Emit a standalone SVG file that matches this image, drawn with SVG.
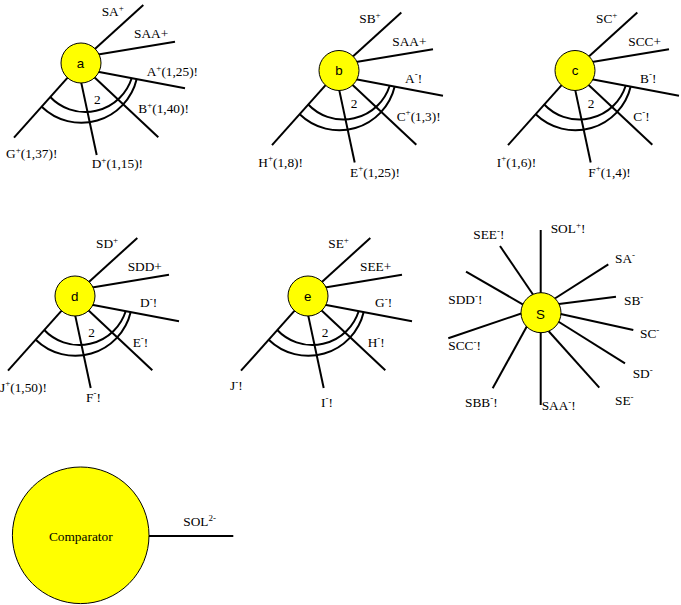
<svg xmlns="http://www.w3.org/2000/svg" xmlns:xlink="http://www.w3.org/1999/xlink" width="681" height="605" viewBox="0 0 681 605">
<style>
  .bg { fill: #ffffff; }
  .ln { stroke: #000; stroke-width: 2; fill: none; stroke-linecap: butt; }
  .arc { stroke: #000; stroke-width: 2; fill: none; }
  .nd { fill: #ffff00; stroke: #000; stroke-width: 1; }
  .lb { font-family: "Liberation Serif", "Times New Roman", serif; font-size: 13.33px; fill: #000; }
  .nl { font-family: "Liberation Sans", Arial, sans-serif; font-size: 13.33px; fill: #000; text-anchor: middle; }
  .cl { font-family: "Liberation Serif", "Times New Roman", serif; font-size: 13.33px; fill: #000; text-anchor: middle; }
  .sup { font-size: 9px; }
</style>
<rect class="bg" x="0" y="0" width="681" height="605"/>

<g id="connectors">
  <g id="stubs-a">
    <line class="ln" x1="93.5" y1="50.2" x2="143.3" y2="5"/>
    <line class="ln" x1="96.6" y1="54.7" x2="175" y2="41.7"/>
    <line class="ln" x1="96.6" y1="71.6" x2="185" y2="88.3"/>
    <line class="ln" x1="94.1" y1="77" x2="158.3" y2="137.3"/>
    <line class="ln" x1="80.5" y1="79.1" x2="96.7" y2="155"/>
    <line class="ln" x1="69.4" y1="75.7" x2="14" y2="137.7"/>
  </g>
  <g id="stubs-b" transform="translate(258,7.5)">
    <line class="ln" x1="93.5" y1="50.2" x2="143.3" y2="5"/>
    <line class="ln" x1="96.6" y1="54.7" x2="175" y2="41.7"/>
    <line class="ln" x1="96.6" y1="71.6" x2="185" y2="88.3"/>
    <line class="ln" x1="94.1" y1="77" x2="158.3" y2="137.3"/>
    <line class="ln" x1="80.5" y1="79.1" x2="96.7" y2="155"/>
    <line class="ln" x1="69.4" y1="75.7" x2="14" y2="137.7"/>
  </g>
  <g id="stubs-c" transform="translate(494,7.5)">
    <line class="ln" x1="93.5" y1="50.2" x2="143.3" y2="5"/>
    <line class="ln" x1="96.6" y1="54.7" x2="175" y2="41.7"/>
    <line class="ln" x1="96.6" y1="71.6" x2="185" y2="88.3"/>
    <line class="ln" x1="94.1" y1="77" x2="158.3" y2="137.3"/>
    <line class="ln" x1="80.5" y1="79.1" x2="96.7" y2="155"/>
    <line class="ln" x1="69.4" y1="75.7" x2="14" y2="137.7"/>
  </g>
  <g id="stubs-d" transform="translate(-6,233)">
    <line class="ln" x1="93.5" y1="50.2" x2="143.3" y2="5"/>
    <line class="ln" x1="96.6" y1="54.7" x2="175" y2="41.7"/>
    <line class="ln" x1="96.6" y1="71.6" x2="185" y2="88.3"/>
    <line class="ln" x1="94.1" y1="77" x2="158.3" y2="137.3"/>
    <line class="ln" x1="80.5" y1="79.1" x2="96.7" y2="155"/>
    <line class="ln" x1="69.4" y1="75.7" x2="14" y2="137.7"/>
  </g>
  <g id="stubs-e" transform="translate(227,233)">
    <line class="ln" x1="93.5" y1="50.2" x2="143.3" y2="5"/>
    <line class="ln" x1="96.6" y1="54.7" x2="175" y2="41.7"/>
    <line class="ln" x1="96.6" y1="71.6" x2="185" y2="88.3"/>
    <line class="ln" x1="94.1" y1="77" x2="158.3" y2="137.3"/>
    <line class="ln" x1="80.5" y1="79.1" x2="96.7" y2="155"/>
    <line class="ln" x1="69.4" y1="75.7" x2="14" y2="137.7"/>
  </g>
  <g id="stubs-s">
    <line class="ln" x1="540.7" y1="295" x2="540.7" y2="230"/>
    <line class="ln" x1="552.5" y1="300" x2="608.3" y2="264.3"/>
    <line class="ln" x1="555" y1="304.6" x2="616" y2="296.7"/>
    <line class="ln" x1="556.1" y1="312.9" x2="633.3" y2="330"/>
    <line class="ln" x1="555.8" y1="320" x2="625" y2="363.3"/>
    <line class="ln" x1="546.7" y1="329" x2="599.3" y2="387.7"/>
    <line class="ln" x1="540.7" y1="330" x2="540.7" y2="405"/>
    <line class="ln" x1="529.1" y1="322.3" x2="492.7" y2="388.3"/>
    <line class="ln" x1="526.4" y1="311.7" x2="448.3" y2="338.3"/>
    <line class="ln" x1="527" y1="306.8" x2="466" y2="271.7"/>
    <line class="ln" x1="534.5" y1="296.8" x2="500" y2="246"/>
  </g>
  <g id="stub-comparator">
    <line class="ln" x1="145" y1="536" x2="233.3" y2="536"/>
  </g>
</g>

<g id="node-a">
  <path class="arc" d="M 50 96.7 A 48.6 48.6 0 0 0 131.7 78.3"/>
  <path class="arc" d="M 41.7 106.7 A 56.9 56.9 0 0 0 136.7 79"/>
  <circle class="nd" cx="81" cy="63" r="20"/>
  <text class="nl" x="80.5" y="68">a</text>
  <text class="lb" x="94" y="104.3">2</text>
  <text class="lb" x="101.7" y="16">SA<tspan class="sup" dy="-5.5">+</tspan></text>
  <text class="lb" x="134" y="38.3">SAA+</text>
  <text class="lb" x="146.7" y="76">A<tspan class="sup" dy="-5.5">+</tspan><tspan dy="5.5">(1,25)!</tspan></text>
  <text class="lb" x="138.3" y="113.3">B<tspan class="sup" dy="-5.5">+</tspan><tspan dy="5.5">(1,40)!</tspan></text>
  <text class="lb" x="6" y="158.3">G<tspan class="sup" dy="-5.5">+</tspan><tspan dy="5.5">(1,37)!</tspan></text>
  <text class="lb" x="91.7" y="168.3">D<tspan class="sup" dy="-5.5">+</tspan><tspan dy="5.5">(1,15)!</tspan></text>
</g>

<g id="node-b">
  <g transform="translate(258,7.5)">
    <path class="arc" d="M 50 96.7 A 48.6 48.6 0 0 0 131.7 78.3"/>
    <path class="arc" d="M 41.7 106.7 A 56.9 56.9 0 0 0 136.7 79"/>
    <circle class="nd" cx="81" cy="63" r="20"/>
  </g>
  <text class="nl" x="339" y="75">b</text>
  <text class="lb" x="350.7" y="108.3">2</text>
  <text class="lb" x="359.3" y="23.3">SB<tspan class="sup" dy="-5.5">+</tspan></text>
  <text class="lb" x="392.3" y="46">SAA+</text>
  <text class="lb" x="405" y="82.7">A<tspan class="sup" dy="-5.5">-</tspan><tspan dy="5.5">!</tspan></text>
  <text class="lb" x="396.7" y="120.7">C<tspan class="sup" dy="-5.5">+</tspan><tspan dy="5.5">(1,3)!</tspan></text>
  <text class="lb" x="258.3" y="166.7">H<tspan class="sup" dy="-5.5">+</tspan><tspan dy="5.5">(1,8)!</tspan></text>
  <text class="lb" x="350" y="176.7">E<tspan class="sup" dy="-5.5">+</tspan><tspan dy="5.5">(1,25)!</tspan></text>
</g>

<g id="node-c">
  <g transform="translate(494,7.5)">
    <path class="arc" d="M 50 96.7 A 48.6 48.6 0 0 0 131.7 78.3"/>
    <path class="arc" d="M 41.7 106.7 A 56.9 56.9 0 0 0 136.7 79"/>
    <circle class="nd" cx="81" cy="63" r="20"/>
  </g>
  <text class="nl" x="575" y="75">c</text>
  <text class="lb" x="587.7" y="108.3">2</text>
  <text class="lb" x="596" y="23.3">SC<tspan class="sup" dy="-5.5">+</tspan></text>
  <text class="lb" x="628.3" y="46">SCC+</text>
  <text class="lb" x="640" y="82.7">B<tspan class="sup" dy="-5.5">-</tspan><tspan dy="5.5">!</tspan></text>
  <text class="lb" x="633.3" y="120.7">C<tspan class="sup" dy="-5.5">-</tspan><tspan dy="5.5">!</tspan></text>
  <text class="lb" x="496.7" y="166.7">I<tspan class="sup" dy="-5.5">+</tspan><tspan dy="5.5">(1,6)!</tspan></text>
  <text class="lb" x="588.3" y="176.7">F<tspan class="sup" dy="-5.5">+</tspan><tspan dy="5.5">(1,4)!</tspan></text>
</g>

<g id="node-d">
  <g transform="translate(-6,233)">
    <path class="arc" d="M 50 96.7 A 48.6 48.6 0 0 0 131.7 78.3"/>
    <path class="arc" d="M 41.7 106.7 A 56.9 56.9 0 0 0 136.7 79"/>
    <circle class="nd" cx="81" cy="63" r="20"/>
  </g>
  <text class="nl" x="74.7" y="300.7">d</text>
  <text class="lb" x="88.3" y="336.7">2</text>
  <text class="lb" x="96" y="248.3">SD<tspan class="sup" dy="-5.5">+</tspan></text>
  <text class="lb" x="127.7" y="270.7">SDD+</text>
  <text class="lb" x="140" y="307.3">D<tspan class="sup" dy="-5.5">-</tspan><tspan dy="5.5">!</tspan></text>
  <text class="lb" x="132.7" y="346.7">E<tspan class="sup" dy="-5.5">-</tspan><tspan dy="5.5">!</tspan></text>
  <text class="lb" x="0" y="391.7">J<tspan class="sup" dy="-5.5">+</tspan><tspan dy="5.5">(1,50)!</tspan></text>
  <text class="lb" x="86" y="401.7">F<tspan class="sup" dy="-5.5">-</tspan><tspan dy="5.5">!</tspan></text>
</g>

<g id="node-e">
  <g transform="translate(227,233)">
    <path class="arc" d="M 50 96.7 A 48.6 48.6 0 0 0 131.7 78.3"/>
    <path class="arc" d="M 41.7 106.7 A 56.9 56.9 0 0 0 136.7 79"/>
    <circle class="nd" cx="81" cy="63" r="20"/>
  </g>
  <text class="nl" x="307.7" y="300.7">e</text>
  <text class="lb" x="321.7" y="336.7">2</text>
  <text class="lb" x="328.3" y="248.3">SE<tspan class="sup" dy="-5.5">+</tspan></text>
  <text class="lb" x="360" y="270.7">SEE+</text>
  <text class="lb" x="375" y="307.3">G<tspan class="sup" dy="-5.5">-</tspan><tspan dy="5.5">!</tspan></text>
  <text class="lb" x="367.7" y="346.7">H<tspan class="sup" dy="-5.5">-</tspan><tspan dy="5.5">!</tspan></text>
  <text class="lb" x="230" y="390">J<tspan class="sup" dy="-5.5">-</tspan><tspan dy="5.5">!</tspan></text>
  <text class="lb" x="321" y="406.7">I<tspan class="sup" dy="-5.5">-</tspan><tspan dy="5.5">!</tspan></text>
</g>

<g id="node-s">
  <circle class="nd" cx="541" cy="312.7" r="20"/>
  <text class="nl" x="540.5" y="318.5">S</text>
  <text class="lb" x="550.7" y="233">SOL<tspan class="sup" dy="-5.5">+</tspan><tspan dy="5.5">!</tspan></text>
  <text class="lb" x="473.3" y="239.3">SEE<tspan class="sup" dy="-5.5">-</tspan><tspan dy="5.5">!</tspan></text>
  <text class="lb" x="615" y="263.3">SA<tspan class="sup" dy="-5.5">-</tspan></text>
  <text class="lb" x="624" y="305">SB<tspan class="sup" dy="-5.5">-</tspan></text>
  <text class="lb" x="640" y="338.3">SC<tspan class="sup" dy="-5.5">-</tspan></text>
  <text class="lb" x="632.7" y="378.3">SD<tspan class="sup" dy="-5.5">-</tspan></text>
  <text class="lb" x="615" y="405">SE<tspan class="sup" dy="-5.5">-</tspan></text>
  <text class="lb" x="541.7" y="410">SAA<tspan class="sup" dy="-5.5">-</tspan><tspan dy="5.5">!</tspan></text>
  <text class="lb" x="465" y="406.7">SBB<tspan class="sup" dy="-5.5">-</tspan><tspan dy="5.5">!</tspan></text>
  <text class="lb" x="448.3" y="350">SCC<tspan class="sup" dy="-5.5">-</tspan><tspan dy="5.5">!</tspan></text>
  <text class="lb" x="448.3" y="304">SDD<tspan class="sup" dy="-5.5">-</tspan><tspan dy="5.5">!</tspan></text>
</g>

<g id="node-comparator">
  <circle class="nd" cx="80.7" cy="535.3" r="68.3"/>
  <text class="cl" x="80.8" y="540.7">Comparator</text>
  <text class="lb" x="183.3" y="526">SOL<tspan class="sup" dy="-5.5">2-</tspan></text>
</g>
</svg>
